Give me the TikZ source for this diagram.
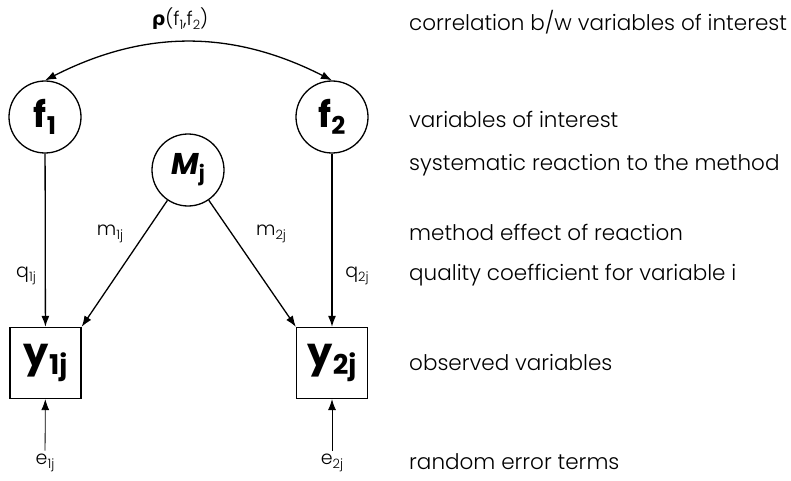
\documentclass[tikz,border=0pt]{standalone}
\usepackage{fontspec}
\setmainfont{Poppins}[UprightFont=* Light, BoldFont=* Bold, BoldItalicFont=* Bold Italic]
\newfontfamily\greekfont{DejaVu Sans}
\usetikzlibrary{arrows.meta,positioning}
\newcommand{\subs}[1]{\raisebox{-0.35ex}{\scalebox{0.68}{#1}}}
\tikzset{
  latent/.style={circle, draw, line width=1.3pt, minimum size=72pt, inner sep=0pt},
  observed/.style={rectangle, draw, line width=1.3pt, minimum size=71pt, inner sep=0pt},
  link/.style={-{Latex[length=11pt,width=8pt]}, line width=1.3pt},
  errlink/.style={-{Latex[length=11pt,width=8pt]}, line width=0.8pt},
  coef/.style={font=\fontsize{19}{19}\selectfont},
  legend/.style={anchor=west, inner sep=0pt, font=\fontsize{21.5}{21.5}\selectfont}
}

\begin{document}
\begin{tikzpicture}[x=1pt,y=-1pt]
\useasboundingbox (0,0) rectangle (791,481);
% latent and observed variables
\node[latent] (f1) at (45,117) {\fontsize{36}{36}\selectfont\bfseries f\subs{1}};
\node[latent] (f2) at (332,117) {\fontsize{36}{36}\selectfont\bfseries f\subs{2}};
\node[latent] (M) at (188,170) {\fontsize{30}{30}\selectfont\bfseries\itshape M\subs{\upshape j}};
\node[observed] (y1) at (45.5,363) {\fontsize{40}{40}\selectfont\bfseries y\subs{1j}};
\node[observed] (y2) at (332,363) {\fontsize{40}{40}\selectfont\bfseries y\subs{2j}};
% errors
\node[coef] (e1) at (45,463) {e\subs{1j}};
\node[coef] (e2) at (332,463) {e\subs{2j}};
% paths
\draw[link, {Latex[length=11pt,width=8pt]}-{Latex[length=11pt,width=8pt]}] (f1.north) to[bend left=27] (f2.north);
\node[coef] (rho) at (180,19) {{\greekfont\bfseries ρ}(f\subs{1},f\subs{2})};
\draw[link] (f1) -- (y1);
\draw[link] (f2) -- (y2);
\draw[link] (M) -- (y1.north east);
\draw[link] (M) -- (y2.north west);
\draw[errlink] (e1) -- (y1);
\draw[errlink] (e2) -- (y2);
\node[coef] (q1) at (26,276) {q\subs{1j}};
\node[coef] (q2) at (357,276) {q\subs{2j}};
\node[coef] (m1) at (110,234) {m\subs{1j}};
\node[coef] (m2) at (271,234) {m\subs{2j}};
% legend
\node[legend] (l1) at (409,22) {correlation b/w variables of interest};
\node[legend] (l2) at (409,119) {variables of interest};
\node[legend] (l3) at (409,165) {systematic reaction to the method};
\node[legend] (l4) at (409,232) {method effect of reaction};
\node[legend] (l5) at (409,275) {quality coefficient for variable i};
\node[legend] (l6) at (409,362) {observed variables};
\node[legend] (l7) at (409,462) {random error terms};
\end{tikzpicture}
\end{document}
